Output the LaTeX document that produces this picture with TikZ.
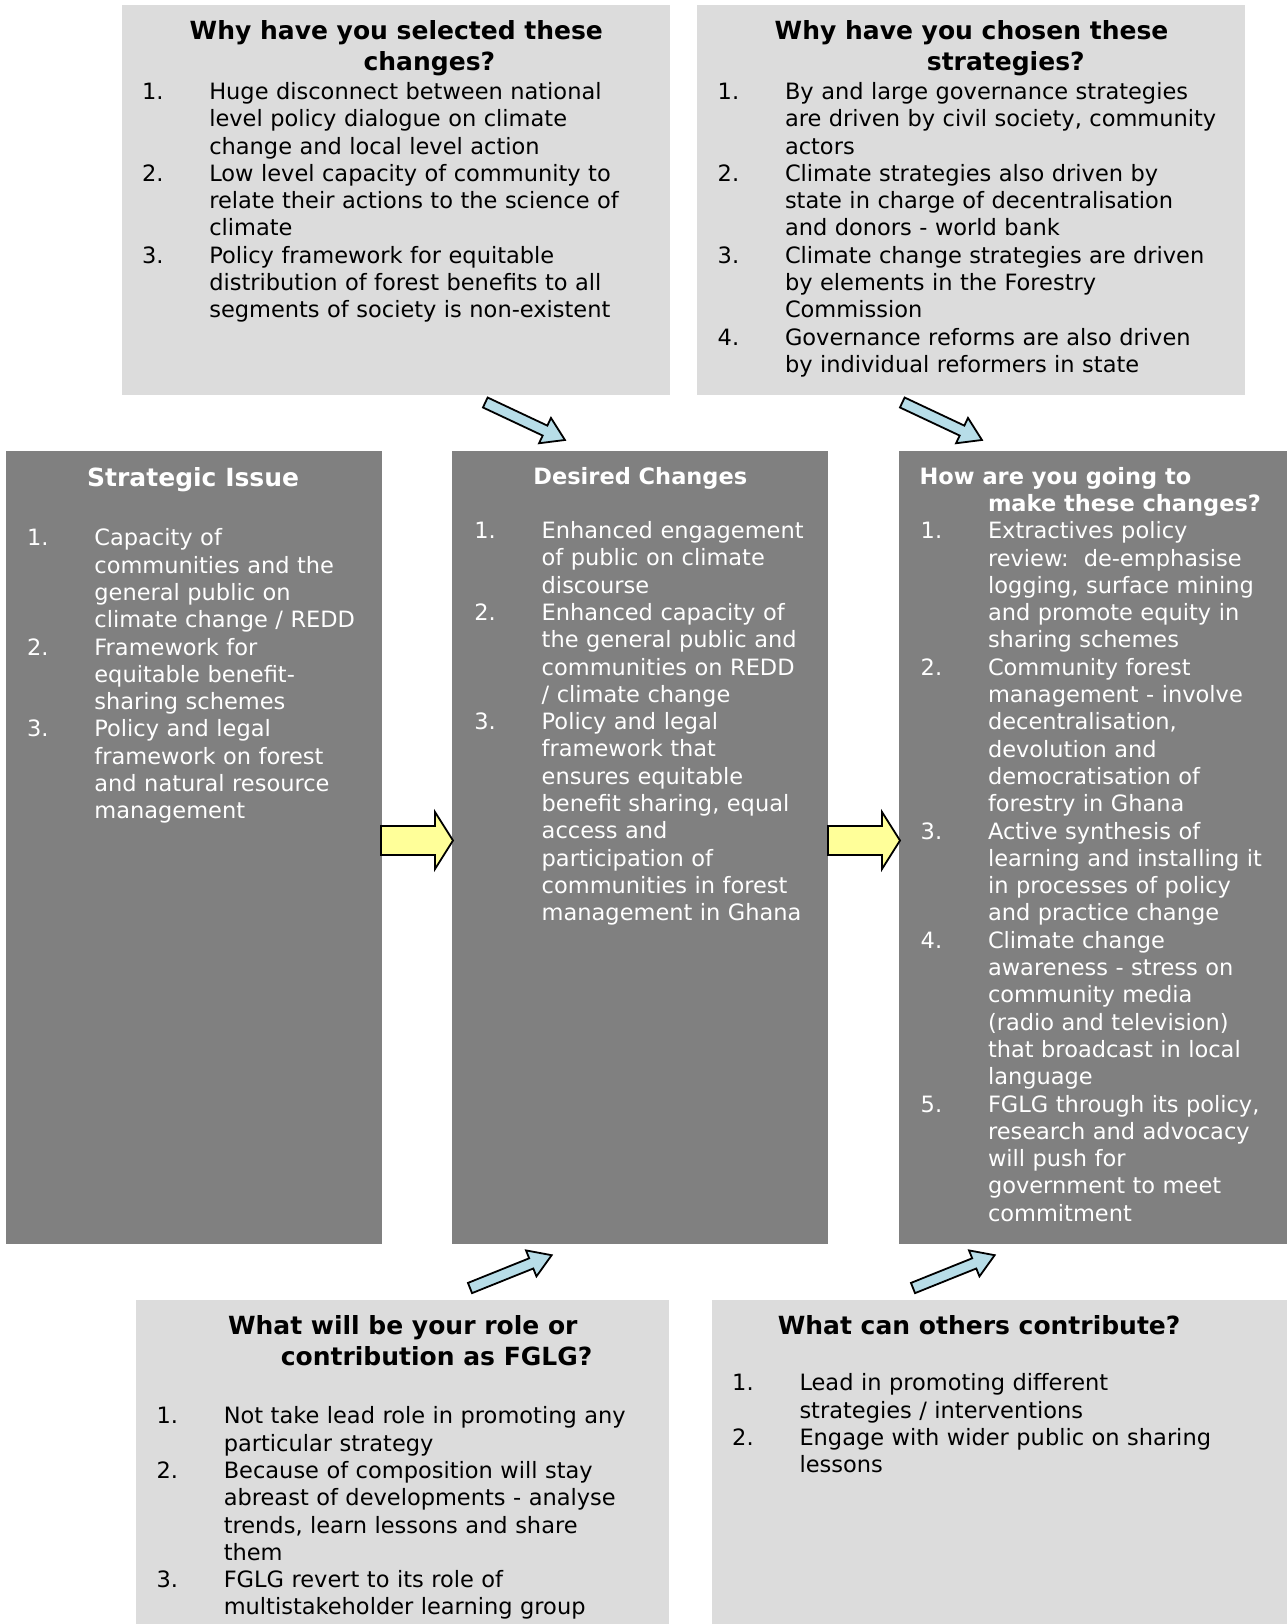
\documentclass[tikz,border=0pt]{standalone}
\usepackage{fontspec}
\setmainfont{DejaVu Sans}
\definecolor{lgray}{HTML}{DCDCDC}
\definecolor{dgray}{HTML}{808080}
\definecolor{ablue}{HTML}{B7DDE8}
\definecolor{ayellow}{HTML}{FFFF99}
\newlength\numw
\setlength\numw{67.3pt}
\newcommand\itm[2]{\par\hangindent=\numw\relax\hangafter=1\relax\noindent\makebox[\numw][l]{#1}#2}
\newcommand\nl{\newline}
\newcommand\lstprep{\setlength\parskip{0pt}\setlength\rightskip{0pt plus 1fil}}
\tikzset{
  lbox/.style={fill=lgray, draw=none},
  dbox/.style={fill=dgray, draw=none},
  ttl/.style={anchor=base west, inner sep=0pt, font=\fontsize{25}{30}\selectfont\bfseries},
  hdr/.style={anchor=base west, inner sep=0pt, font=\fontsize{22.5}{27.2}\selectfont\bfseries},
  lst/.style={anchor=base west, inner sep=0pt, text width=700pt,
    font=\fontsize{22.5}{27.3}\selectfont, execute at begin node=\lstprep},
  barrow/.style={fill=ablue, draw=black, line width=1.8pt, line join=miter},
  yarrow/.style={fill=ayellow, draw=black, line width=1.8pt, line join=miter}
}
\begin{document}
\begin{tikzpicture}[x=1pt,y=-1pt]
\useasboundingbox (0,0) rectangle (1287,1624);
% boxes
\path[lbox] (122,5) rectangle (670,395);
\path[lbox] (697,5) rectangle (1245,395);
\path[dbox] (6,451) rectangle (382,1244);
\path[dbox] (452,451) rectangle (828,1244);
\path[dbox] (899,451) rectangle (1287,1244);
\path[lbox] (136,1300) rectangle (669,1624);
\path[lbox] (712,1300) rectangle (1287,1624);

% top-left
\node[ttl] (tl1) at (189.5,40) {Why have you selected these};
\node[ttl] (tl2) at (363.4,71) {changes?};
\node[lst] (tll) at (141.8,72.2) {%
\itm{1.}{Huge disconnect between national\nl level policy dialogue on climate\nl change and local level action}%
\itm{2.}{Low level capacity of community to\nl relate their actions to the science of\nl climate}%
\itm{3.}{Policy framework for equitable\nl distribution of forest benefits to all\nl segments of society is non-existent}\par};

% top-right
\node[ttl] (tr1) at (774.5,40) {Why have you chosen these};
\node[ttl] (tr2) at (926.7,71) {strategies?};
\node[lst] (trl) at (717.5,72.2) {%
\itm{1.}{By and large governance strategies\nl are driven by civil society, community\nl actors}%
\itm{2.}{Climate strategies also driven by\nl state in charge of decentralisation\nl and donors - world bank}%
\itm{3.}{Climate change strategies are driven\nl by elements in the Forestry\nl Commission}%
\itm{4.}{Governance reforms are also driven\nl by individual reformers in state}\par};

% strategic issue
\node[ttl, text=white] (si1) at (87,486.3) {Strategic Issue};
\node[lst, text=white] (sil) at (26.9,518.5) {%
\itm{1.}{Capacity of\nl communities and the\nl general public on\nl climate change / REDD}%
\itm{2.}{Framework for\nl equitable benefit-\nl sharing schemes}%
\itm{3.}{Policy and legal\nl framework on forest\nl and natural resource\nl management}\par};

% desired changes
\node[hdr, text=white] (dc1) at (533.2,484.3) {Desired Changes};
\node[lst, text=white] (dcl) at (474.2,511.2) {%
\itm{1.}{Enhanced engagement\nl of public on climate\nl discourse}%
\itm{2.}{Enhanced capacity of\nl the general public and\nl communities on REDD\nl / climate change}%
\itm{3.}{Policy and legal\nl framework that\nl ensures equitable\nl benefit sharing, equal\nl access and\nl participation of\nl communities in forest\nl management in Ghana}\par};

% how
\node[hdr, text=white] (hw1) at (919.4,484.3) {How are you going to};
\node[hdr, text=white] (hw2) at (987.8,511.2) {make these changes?};
\node[lst, text=white] (hwl) at (920.5,511.4) {%
\itm{1.}{Extractives policy\nl review:\ \ de-emphasise\nl logging, surface mining\nl and promote equity in\nl sharing schemes}%
\itm{2.}{Community forest\nl management - involve\nl decentralisation,\nl devolution and\nl democratisation of\nl forestry in Ghana}%
\itm{3.}{Active synthesis of\nl learning and installing it\nl in processes of policy\nl and practice change}%
\itm{4.}{Climate change\nl awareness - stress on\nl community media\nl (radio and television)\nl that broadcast in local\nl language}%
\itm{5.}{FGLG through its policy,\nl research and advocacy\nl will push for\nl government to meet\nl commitment}\par};

% bottom-left
\node[ttl] (bl1) at (227.8,1334.3) {What will be your role or};
\node[ttl] (bl2) at (280.6,1365.4) {contribution as FGLG?};
\node[lst] (bll) at (156.3,1396.5) {%
\itm{1.}{Not take lead role in promoting any\nl particular strategy}%
\itm{2.}{Because of composition will stay\nl abreast of developments - analyse\nl trends, learn lessons and share\nl them}%
\itm{3.}{FGLG revert to its role of\nl multistakeholder learning group}\par};

% bottom-right
\node[ttl] (br1) at (777.6,1334.3) {What can others contribute?};
\node[lst] (brl) at (732,1363.4) {%
\itm{1.}{Lead in promoting different\nl strategies / interventions}%
\itm{2.}{Engage with wider public on sharing\nl lessons}\par};

% yellow arrows
\draw[yarrow] (381,826) -- (435,826) -- (435,812) -- (453,840.5) -- (435,869) -- (435,855) -- (381,855) -- cycle;
\draw[yarrow] (828,826) -- (882,826) -- (882,812) -- (900,840.5) -- (882,869) -- (882,855) -- (828,855) -- cycle;

% blue arrows
\foreach \px/\py/\ang in {485.3/402.5/-25.2, 902.3/402.5/-25.2, 470/1288/21.9, 913/1288/21.9}{
  \begin{scope}[shift={(\px,\py)}, rotate=\ang]
    \draw[barrow] (0,-5.5) -- (66,-5.5) -- (66,-14) -- (88,0) -- (66,14) -- (66,5.5) -- (0,5.5) -- cycle;
  \end{scope}
}
\end{tikzpicture}
\end{document}
